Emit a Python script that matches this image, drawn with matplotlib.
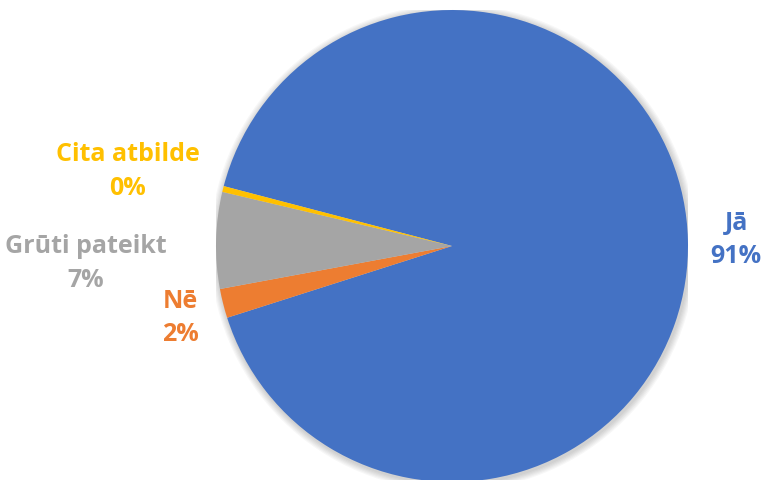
import matplotlib

matplotlib.use("Agg")

import matplotlib.pyplot as plt
from matplotlib.patches import Circle

labels = ["Jā", "Nē", "Grūti pateikt", "Cita atbilde"]
values = [91.0, 2.0, 6.6, 0.4]
pct_text = ["91%", "2%", "7%", "0%"]
colors = ["#4472C4", "#ED7D31", "#A5A5A5", "#FFC000"]

# label anchor points in pie-radius units (centre of the two-line text)
label_pos = [(1.204, 0.03), (-1.149, -0.30), (-1.553, -0.07), (-1.374, 0.32)]

fig = plt.figure(figsize=(7.68, 4.81), dpi=100)
W, H = 768, 481
cx, cy, r = 452, 247, 236
ax = fig.add_axes([(cx - r) / W, (H - cy - r) / H, 2 * r / W, 2 * r / H])
ax.set_xlim(-1, 1)
ax.set_ylim(-1, 1)
ax.set_aspect("equal")
ax.axis("off")

# soft shadow around the pie
for i in range(6):
    ax.add_patch(Circle((0.005, -0.007), 1.0 + 0.005 * (i + 1), color="#000000",
                        alpha=0.03, lw=0, zorder=0))

ax.pie(values, colors=colors, startangle=165.3, counterclock=False,
       radius=1.0, wedgeprops={"linewidth": 0, "zorder": 1})
ax.set_xlim(-1, 1)
ax.set_ylim(-1, 1)

for lab, pct, col, (x, y) in zip(labels, pct_text, colors, label_pos):
    ax.text(x, y, f"{lab}\n{pct}", color=col, ha="center", va="center",
            fontsize=18, fontweight="bold", family="Open Sans", linespacing=1.45,
            clip_on=False)

fig.savefig("out.png", dpi=100)
